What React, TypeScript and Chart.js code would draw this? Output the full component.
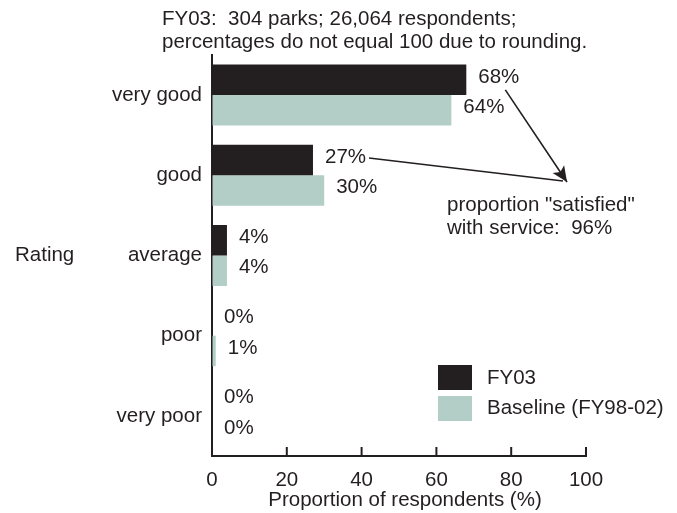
import React, { useEffect, useRef } from "react";
import { Chart, registerables } from "chart.js";

Chart.register(...registerables);

const categories = ["very good", "good", "average", "poor", "very poor"];
const fy03 = [68, 27, 4, 0, 0];
const baseline = [64, 30, 4, 1, 0];
const xTicks = [0, 20, 40, 60, 80, 100];
const seriesNames = ["FY03", "Baseline (FY98-02)"];
const titleLines = ["FY03:  304 parks; 26,064 respondents;", "percentages do not equal 100 due to rounding."];
const annotationLines = ['proportion "satisfied"', "with service:  96%"];
const yAxisTitle = "Rating";
const xAxisTitle = "Proportion of respondents (%)";

const DARK = "#231f20";
const TEAL = "#b3cec7";
const FONT_FAMILY = "'Liberation Sans', Arial, Helvetica, sans-serif";
const FONT_SIZE = 20.5;

const overlay = {
  id: "overlay",
  afterDraw(chart: any) {
    const ctx = chart.ctx;
    const xs = chart.scales.x;
    const area = chart.chartArea;
    ctx.save();
    ctx.fillStyle = DARK;
    ctx.strokeStyle = DARK;
    ctx.font = `${FONT_SIZE}px ${FONT_FAMILY}`;
    ctx.textBaseline = "middle";
    ctx.textAlign = "left";

    // title lines
    titleLines.forEach((t, i) => ctx.fillText(t, 162, 19 + i * 23));

    // y axis title
    ctx.fillText(yAxisTitle, 15, 255);

    // x tick marks (inside)
    ctx.lineWidth = 2;
    xTicks.forEach((v) => {
      const x = xs.getPixelForValue(v);
      if (v === 0) return;
      ctx.beginPath();
      ctx.moveTo(x, area.bottom);
      ctx.lineTo(x, area.bottom - 9);
      ctx.stroke();
    });

    // x axis title
    ctx.textAlign = "center";
    ctx.fillText(xAxisTitle, (xs.getPixelForValue(0) + xs.getPixelForValue(100)) / 2 + 6, 500);
    ctx.textAlign = "left";

    // value labels
    const labelPos: any[][] = [[], []];
    [fy03, baseline].forEach((arr, di) => {
      const meta = chart.getDatasetMeta(di);
      meta.data.forEach((el: any, i: number) => {
        const txt = `${arr[i]}%`;
        const x = el.x + 12;
        const y = el.y - 3;
        ctx.fillText(txt, x, y);
        labelPos[di][i] = { x, y, w: ctx.measureText(txt).width };
      });
    });

    // arrows toward the annotation
    const tipX = 567;
    const tipY = 182;
    const a = labelPos[0][0];
    const b = labelPos[0][1];
    const ax = a.x + 27;
    const ay = a.y + 13;
    ctx.lineWidth = 1.6;
    ctx.beginPath();
    ctx.moveTo(ax, ay);
    ctx.lineTo(tipX, tipY);
    ctx.stroke();
    ctx.beginPath();
    ctx.moveTo(b.x + b.w + 3, b.y + 1);
    ctx.lineTo(tipX - 4, tipY - 1);
    ctx.stroke();
    // arrow head
    const ang = Math.atan2(tipY - ay, tipX - ax);
    const len = 17;
    const half = 0.42;
    ctx.beginPath();
    ctx.moveTo(tipX, tipY);
    ctx.lineTo(tipX - len * Math.cos(ang - half), tipY - len * Math.sin(ang - half));
    ctx.lineTo(tipX - len * 0.7 * Math.cos(ang), tipY - len * 0.7 * Math.sin(ang));
    ctx.lineTo(tipX - len * Math.cos(ang + half), tipY - len * Math.sin(ang + half));
    ctx.closePath();
    ctx.fill();

    // annotation text
    annotationLines.forEach((t, i) => ctx.fillText(t, 447, 205 + i * 23));

    // legend
    const colors = [DARK, TEAL];
    seriesNames.forEach((n, i) => {
      ctx.fillStyle = colors[i];
      ctx.fillRect(438, 365 + i * 31, 34, 25);
      ctx.fillStyle = DARK;
      ctx.fillText(n, 487, 378 + i * 30);
    });

    ctx.restore();
  },
};

const whiteBg = {
  id: "whiteBg",
  beforeDraw(chart: any) {
    const ctx = chart.ctx;
    ctx.save();
    ctx.fillStyle = "#ffffff";
    ctx.fillRect(0, 0, chart.width, chart.height);
    ctx.restore();
  },
};

export default function App() {
  const ref = useRef<HTMLCanvasElement | null>(null);
  useEffect(() => {
    if (!ref.current) return;
    const chart = new Chart(ref.current, {
      type: "bar",
      data: {
        labels: categories,
        datasets: [
          { label: seriesNames[0], data: fy03, backgroundColor: DARK, borderWidth: 0 },
          { label: seriesNames[1], data: baseline, backgroundColor: TEAL, borderWidth: 0 },
        ],
      },
      options: {
        indexAxis: "y",
        responsive: false,
        animation: false,
        events: [],
        datasets: { bar: { categoryPercentage: 0.76, barPercentage: 1 } },
        layout: { padding: { top: 55, right: 91, left: 0, bottom: 0 } },
        plugins: { legend: { display: false }, tooltip: { enabled: false }, title: { display: false } },
        scales: {
          x: {
            type: "linear",
            min: 0,
            max: 100,
            afterFit: (s: any) => {
              s.height = 57;
            },
            ticks: {
              stepSize: 20,
              padding: 12,
              color: DARK,
              font: { size: FONT_SIZE, family: FONT_FAMILY },
            },
            grid: { display: true, drawOnChartArea: false, drawTicks: false, color: "rgba(0,0,0,0)" },
            border: { display: true, color: DARK, width: 2 },
          },
          y: {
            type: "category",
            afterFit: (s: any) => {
              s.width = 212;
            },
            ticks: {
              padding: 10,
              color: DARK,
              font: { size: FONT_SIZE, family: FONT_FAMILY },
            },
            grid: { display: true, drawOnChartArea: false, drawTicks: false, color: "rgba(0,0,0,0)" },
            border: { display: true, color: DARK, width: 2 },
          },
        },
      },
      plugins: [whiteBg, overlay],
    });
    return () => chart.destroy();
  }, []);
  return (
    <div style={{ position: "fixed", left: 0, top: 0, width: 677, height: 513, background: "#fff" }}>
      <canvas ref={ref} width={677} height={513} style={{ display: "block" }} />
    </div>
  );
}
